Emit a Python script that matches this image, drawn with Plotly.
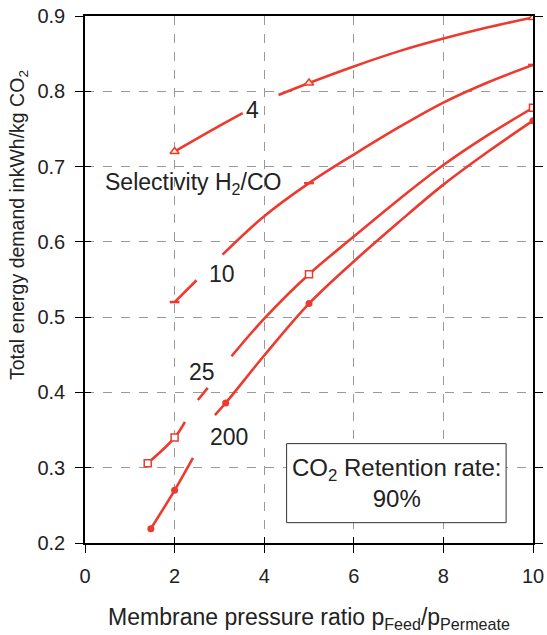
import plotly.graph_objects as go

# Energy demand vs. membrane pressure ratio, one curve per H2/CO selectivity.
# Line arrays trace each curve; None marks where the curve is broken for its label.
x_sel4 = [2, 3, 3.52, None, 4.32, 5, 6, 7, 8, 9, 10]
y_sel4 = [0.720, 0.754, 0.771, None, 0.795, 0.811, 0.833, 0.853, 0.870, 0.885, 0.898]
mx_sel4 = [2, 5, 10]
my_sel4 = [0.720, 0.811, 0.898]

x_sel10 = [2, 2.49, None, 3.07, 4, 5, 6, 7, 8, 9, 10]
y_sel10 = [0.520, 0.549, None, 0.583, 0.634, 0.678, 0.716, 0.752, 0.785, 0.812, 0.835]
mx_sel10 = [2, 5, 10]
my_sel10 = [0.520, 0.678, 0.835]

x_sel25 = [1.40, 2, 2.23, None, 2.52, 2.74, None, 3.27, 4, 5, 6, 7, 8, 9, 10]
y_sel25 = [0.306, 0.340, 0.361, None, 0.390, 0.406, None, 0.448, 0.498, 0.557, 0.607, 0.656, 0.702, 0.742, 0.778]
mx_sel25 = [1.40, 2, 5, 10]
my_sel25 = [0.306, 0.340, 0.557, 0.778]

x_sel200 = [1.47, 2, 2.41, None, 2.90, 3.14, 4, 5, 6, 7, 8, 9, 10]
y_sel200 = [0.219, 0.270, 0.313, None, 0.370, 0.386, 0.449, 0.518, 0.574, 0.626, 0.676, 0.720, 0.761]
mx_sel200 = [1.47, 2, 3.14, 5, 10]
my_sel200 = [0.219, 0.270, 0.386, 0.518, 0.761]

x_ticks = [0, 2, 4, 6, 8, 10]
y_ticks = [0.2, 0.3, 0.4, 0.5, 0.6, 0.7, 0.8, 0.9]

RED = "#EE3A2E"
INK = "#222222"
FONT = "Liberation Sans, Arial, sans-serif"

fig = go.Figure()

series = [
    (x_sel4, y_sel4, mx_sel4, my_sel4,
     dict(symbol="triangle-up", size=8, color="#FFF2C8", line=dict(color=RED, width=1.5))),
    (x_sel10, y_sel10, mx_sel10, my_sel10,
     dict(symbol="line-ew", size=7, color=RED, line=dict(color=RED, width=2.5))),
    (x_sel25, y_sel25, mx_sel25, my_sel25,
     dict(symbol="square", size=7, color="white", line=dict(color=RED, width=1.5))),
    (x_sel200, y_sel200, mx_sel200, my_sel200,
     dict(symbol="circle", size=7, color=RED, line=dict(color=RED, width=0))),
]

for lx, ly, mx, my, mk in series:
    fig.add_trace(go.Scatter(
        x=lx, y=ly, mode="lines", connectgaps=False,
        line=dict(color=RED, width=2.6, shape="spline", smoothing=1.0),
        hoverinfo="skip", showlegend=False,
    ))
    fig.add_trace(go.Scatter(
        x=mx, y=my, mode="markers", marker=mk, showlegend=False,
    ))

# empty trace so the overlaid axes (inner halves of the tick marks) get drawn
fig.add_trace(go.Scatter(x=[], y=[], xaxis="x2", yaxis="y2", showlegend=False))

axis_common = dict(
    showline=True, linecolor="black", linewidth=1.5,
    ticks="outside", ticklen=8, tickwidth=1.2, tickcolor="black",
    showgrid=True, gridcolor="#9a9a9a", gridwidth=1, griddash="dash",
    zeroline=False, automargin=False,
    tickfont=dict(family=FONT, size=20, color=INK),
    ticklabelstandoff=6,
)

fig.update_layout(
    width=547, height=635,
    margin=dict(l=85, r=14, t=16, b=92),
    paper_bgcolor="white", plot_bgcolor="white",
    showlegend=False,
    font=dict(family=FONT, color=INK),
    xaxis=dict(
        range=[0, 10], tickvals=x_ticks, ticktext=[str(v) for v in x_ticks],
        mirror=True,
        title=dict(text="Membrane pressure ratio p<sub>Feed</sub>/p<sub>Permeate</sub>",
                   font=dict(family=FONT, size=23, color=INK), standoff=23),
        **axis_common,
    ),
    yaxis=dict(
        range=[0.2, 0.9], tickvals=y_ticks, ticktext=[f"{v:.1f}" for v in y_ticks],
        mirror="ticks",
        **axis_common,
    ),
    xaxis2=dict(
        overlaying="x", anchor="y2", range=[0, 10], tickvals=x_ticks,
        ticks="inside", ticklen=6, tickwidth=1.2, tickcolor="black",
        showticklabels=False, showgrid=False, showline=False, zeroline=False,
        automargin=False,
    ),
    yaxis2=dict(
        overlaying="y", anchor="x2", range=[0.2, 0.9], tickvals=y_ticks,
        ticks="inside", ticklen=6, tickwidth=1.2, tickcolor="black",
        showticklabels=False, showgrid=False, showline=False, zeroline=False,
        automargin=False,
    ),
)

# y-axis title placed as a rotated annotation
fig.add_annotation(
    text="Total energy demand inkWh/kg CO<sub>2</sub>",
    xref="paper", yref="paper", x=-0.150, y=0.603,
    textangle=-90, showarrow=False, xanchor="center", yanchor="middle",
    font=dict(family=FONT, size=19.5, color=INK),
)

# curve labels
labels = [
    ("4", 3.74, 0.775),
    ("Selectivity H<sub>2</sub>/CO", 2.41, 0.678),
    ("10", 3.05, 0.557),
    ("25", 2.61, 0.427),
    ("200", 3.21, 0.341),
]
for txt, lx, ly in labels:
    fig.add_annotation(
        text=txt, x=lx, y=ly, showarrow=False,
        xanchor="center", yanchor="middle",
        font=dict(family=FONT, size=23, color=INK),
    )

# retention-rate note in a framed box
fig.add_shape(
    type="rect", x0=4.50, x1=9.40, y0=0.227, y1=0.332,
    line=dict(color="#333333", width=1), fillcolor="white", layer="above",
)
fig.add_annotation(
    text="CO<sub>2</sub> Retention rate:<br>90%",
    x=6.95, y=0.2795, showarrow=False, align="center",
    xanchor="center", yanchor="middle",
    font=dict(family=FONT, size=24, color=INK),
)

fig.write_html("out.html")
